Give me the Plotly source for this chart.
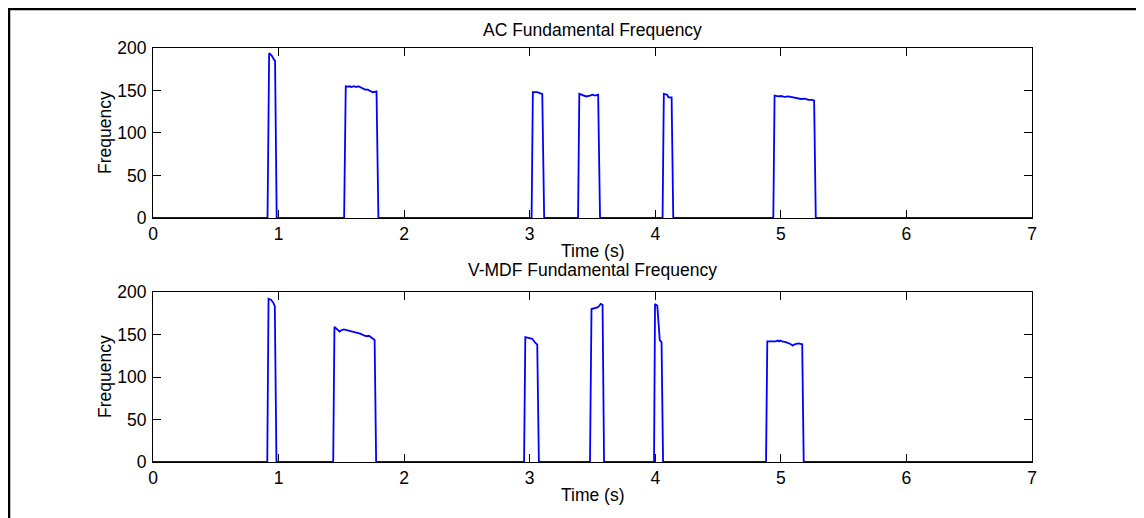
import plotly.graph_objects as go
from plotly.subplots import make_subplots

# Sinais (tempo em s, frequência fundamental)
ac_t = [0, 0.912, 0.925, 0.945, 0.965, 0.972, 0.985,
        1.522, 1.535, 1.55, 1.565, 1.58, 1.6, 1.62, 1.635, 1.65, 1.67, 1.69, 1.71, 1.73, 1.75, 1.765, 1.78, 1.795,
        3.015, 3.025, 3.06, 3.08, 3.1, 3.115,
        3.385, 3.395, 3.42, 3.45, 3.48, 3.5, 3.52, 3.545, 3.56,
        4.058, 4.068, 4.095, 4.105, 4.13, 4.143,
        4.94, 4.95, 4.98, 5.0, 5.03, 5.06, 5.1, 5.13, 5.16, 5.19, 5.22, 5.25, 5.265, 5.278,
        7.0]
ac_f = [0, 0, 194, 191, 186, 185, 0,
        0, 155, 154.5, 155, 154, 155, 154, 155, 154, 152, 151, 151, 149, 148, 148.5, 149, 0,
        0, 148, 148, 147, 146, 0,
        0, 146, 145, 143, 144, 145, 144, 145, 0,
        0, 146, 145, 142, 142, 0,
        0, 144, 143, 143.5, 142.5, 143, 142, 141, 140, 140.5, 139, 139, 138, 0,
        0]

vmdf_t = [0, 0.91, 0.92, 0.94, 0.96, 0.97, 0.983,
          1.435, 1.445, 1.47, 1.485, 1.5, 1.52, 1.55, 1.58, 1.6, 1.62, 1.65, 1.68, 1.7, 1.72, 1.735, 1.755, 1.765, 1.777,
          2.955, 2.965, 2.99, 3.02, 3.04, 3.06, 3.073,
          3.48, 3.492, 3.52, 3.54, 3.55, 3.565, 3.58, 3.592,
          3.99, 3.998, 4.016, 4.036, 4.05, 4.062,
          4.882, 4.892, 4.93, 4.96, 4.975, 4.985, 4.995, 5.01, 5.04, 5.06, 5.08, 5.095, 5.11, 5.14, 5.17, 5.182,
          7.0]
vmdf_f = [0, 0, 192, 191, 187, 183, 0,
          0, 159, 155, 153.5, 155, 156, 155, 154, 153, 152, 151, 149, 148, 148.5, 147, 144, 143.5, 0,
          0, 147, 146, 145, 141, 138, 0,
          0, 180, 181, 182, 183, 186, 185, 0,
          0, 186, 184, 143, 141, 0,
          0, 142, 142, 142, 143, 142, 143, 142, 141, 140, 138.5, 137, 138.5, 139.5, 138.5, 0,
          0]

titles = ["AC Fundamental Frequency", "V-MDF Fundamental Frequency"]
x_ticks = [0, 1, 2, 3, 4, 5, 6, 7]
y_ticks = [0, 50, 100, 150, 200]

FONT = "Arial, Liberation Sans, Helvetica, sans-serif"

fig = make_subplots(rows=2, cols=1, vertical_spacing=0.1787)

fig.add_trace(go.Scatter(x=ac_t, y=ac_f, mode="lines",
                         line=dict(color="#0000ff", width=1.8), showlegend=False), row=1, col=1)
fig.add_trace(go.Scatter(x=vmdf_t, y=vmdf_f, mode="lines",
                         line=dict(color="#0000ff", width=1.8), showlegend=False), row=2, col=1)

eixo = dict(showline=True, linecolor="black", linewidth=1, mirror="ticks",
            ticks="inside", ticklen=8, tickcolor="black", showgrid=False,
            zeroline=False, layer="below traces",
            tickfont=dict(family=FONT, size=17.5, color="black"))

fig.update_xaxes(range=[0, 7], tickvals=x_ticks, **eixo)
fig.update_yaxes(range=[0, 200], tickvals=y_ticks, ticklabelstandoff=2, **eixo)

fig.layout.yaxis.domain = [0.5894, 1.0]
fig.layout.yaxis2.domain = [0.0, 0.4106]

# Títulos e rótulos
fonte = dict(family=FONT, size=17.5, color="black")
anot = []
for dom_top, dom_bot, titulo, dy in [(1.0, 0.5894, titles[0], 18), (0.4106, 0.0, titles[1], 22)]:
    anot.append(dict(text=titulo, xref="paper", yref="paper", x=0.5, y=dom_top,
                     xanchor="center", yanchor="middle", yshift=dy,
                     showarrow=False, font=fonte))
    anot.append(dict(text="Time (s)", xref="paper", yref="paper", x=0.5, y=dom_bot,
                     xanchor="center", yanchor="middle", yshift=-33,
                     showarrow=False, font=fonte))
    anot.append(dict(text="Frequency", xref="paper", yref="paper", x=0, y=(dom_top + dom_bot) / 2,
                     xanchor="center", yanchor="middle", xshift=-48, textangle=-90,
                     showarrow=False, font=fonte))
fig.update_layout(annotations=anot)

# Moldura da figura
fig.add_shape(type="rect", xref="paper", yref="paper",
              x0=-0.1638, x1=1.1217, y0=-0.2, y1=1.0942,
              line=dict(color="black", width=2.5))

# a página tem 8 px de margem no body: figura um pouco menor
fig.update_layout(
    width=1136, height=510,
    margin=dict(l=145, r=112, t=40, b=56),
    plot_bgcolor="white", paper_bgcolor="white",
    font=fonte,
)

fig.write_html("out.html")
